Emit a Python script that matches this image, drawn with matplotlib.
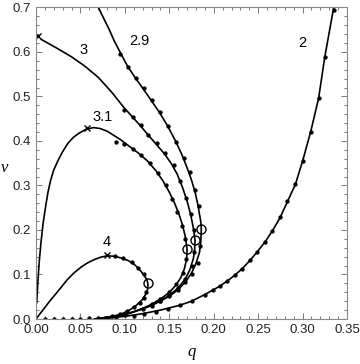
import matplotlib
matplotlib.use("Agg")
import matplotlib.pyplot as plt
from matplotlib.ticker import MultipleLocator

# curve lines (q, nu)
q_2 = [0.065, 0.08, 0.10, 0.12, 0.14, 0.162, 0.175, 0.182, 0.190, 0.199, 0.207, 0.215, 0.224,
       0.232, 0.241, 0.249, 0.258, 0.266, 0.275, 0.283, 0.292, 0.300, 0.309, 0.318, 0.325, 0.335]
nu_2 = [0.0, 0.002, 0.006, 0.012, 0.020, 0.031, 0.040, 0.047, 0.055, 0.065, 0.074, 0.085, 0.099,
        0.113, 0.132, 0.151, 0.174, 0.198, 0.229, 0.264, 0.303, 0.355, 0.420, 0.496, 0.589, 0.700]

q_29 = [0.0702, 0.076, 0.082, 0.088, 0.095, 0.103, 0.112, 0.121, 0.130, 0.139, 0.148, 0.157,
        0.164, 0.170, 0.175, 0.179, 0.182, 0.184, 0.1855, 0.186, 0.1855, 0.184, 0.180, 0.175,
        0.168, 0.160, 0.150, 0.139, 0.127, 0.113, 0.100, 0.088, 0.075]
nu_29 = [0.700, 0.676, 0.652, 0.625, 0.598, 0.568, 0.541, 0.516, 0.490, 0.464, 0.434, 0.400,
         0.370, 0.340, 0.312, 0.285, 0.258, 0.235, 0.218, 0.202, 0.175, 0.150, 0.125, 0.103,
         0.083, 0.066, 0.051, 0.039, 0.028, 0.018, 0.010, 0.005, 0.001]

q_3 = [0.006, 0.023, 0.040, 0.055, 0.070, 0.085, 0.099, 0.109, 0.118, 0.126, 0.136, 0.145,
       0.152, 0.159, 0.165, 0.170, 0.174, 0.177, 0.179, 0.1785, 0.177, 0.173, 0.168, 0.160,
       0.150, 0.138, 0.125, 0.110, 0.095, 0.080, 0.070]
nu_3 = [0.628, 0.609, 0.589, 0.568, 0.543, 0.510, 0.475, 0.453, 0.433, 0.414, 0.391, 0.370,
        0.350, 0.325, 0.295, 0.265, 0.235, 0.205, 0.177, 0.155, 0.135, 0.110, 0.090, 0.070,
        0.053, 0.039, 0.027, 0.016, 0.008, 0.003, 0.001]

q_31 = [0.0008, 0.002, 0.0035, 0.0055, 0.008, 0.011, 0.0135, 0.0165, 0.020, 0.025, 0.030, 0.036,
        0.042, 0.048, 0.057, 0.065, 0.072, 0.080, 0.088, 0.095, 0.105, 0.115, 0.125, 0.135,
        0.143, 0.150, 0.156, 0.161, 0.165, 0.168, 0.170, 0.1695, 0.167, 0.163, 0.157, 0.149,
        0.140, 0.130, 0.118, 0.105, 0.092, 0.080, 0.070]
nu_31 = [0.036, 0.080, 0.125, 0.170, 0.215, 0.255, 0.285, 0.312, 0.335, 0.357, 0.376, 0.395,
         0.408, 0.417, 0.427, 0.430, 0.428, 0.422, 0.412, 0.403, 0.388, 0.373, 0.356, 0.333,
         0.310, 0.285, 0.260, 0.235, 0.210, 0.185, 0.157, 0.135, 0.113, 0.093, 0.075, 0.058,
         0.045, 0.033, 0.022, 0.013, 0.006, 0.002, 0.0005]

q_4 = [0.0, 0.005, 0.010, 0.015, 0.020, 0.027, 0.035, 0.043, 0.051, 0.058, 0.065, 0.073, 0.080,
       0.088, 0.096, 0.104, 0.111, 0.117, 0.122, 0.125, 0.126, 0.1255, 0.123, 0.119, 0.113,
       0.106, 0.098, 0.090, 0.080, 0.072]
nu_4 = [0.0, 0.013, 0.026, 0.039, 0.051, 0.068, 0.088, 0.104, 0.117, 0.126, 0.133, 0.139, 0.142,
        0.141, 0.137, 0.131, 0.122, 0.110, 0.097, 0.087, 0.078, 0.066, 0.054, 0.042, 0.031,
        0.021, 0.013, 0.008, 0.004, 0.002]

# data dots
dq_2 = [0.190, 0.199, 0.207, 0.215, 0.224, 0.232, 0.241, 0.249, 0.258, 0.266, 0.275, 0.283,
        0.292, 0.300, 0.309, 0.318, 0.325, 0.335, 0.175, 0.162, 0.148, 0.135, 0.122, 0.110]
dnu_2 = [0.055, 0.065, 0.074, 0.085, 0.099, 0.113, 0.132, 0.151, 0.174, 0.198, 0.229, 0.264,
         0.303, 0.355, 0.420, 0.496, 0.589, 0.694, 0.040, 0.031, 0.022, 0.016, 0.011, 0.007]
dq_29 = [0.095, 0.103, 0.112, 0.121, 0.130, 0.139, 0.148, 0.157, 0.166, 0.173, 0.179, 0.183,
         0.185, 0.182, 0.176, 0.168, 0.160, 0.150, 0.140, 0.130]
dnu_29 = [0.596, 0.566, 0.541, 0.518, 0.492, 0.466, 0.434, 0.398, 0.362, 0.330, 0.290, 0.255,
          0.165, 0.125, 0.100, 0.083, 0.066, 0.051, 0.040, 0.030]
dq_3 = [0.099, 0.109, 0.118, 0.126, 0.136, 0.145, 0.155, 0.162, 0.169, 0.174, 0.178, 0.178,
        0.175, 0.168, 0.160, 0.150, 0.140]
dnu_3 = [0.470, 0.453, 0.436, 0.413, 0.395, 0.373, 0.345, 0.310, 0.272, 0.235, 0.200, 0.150,
         0.120, 0.090, 0.070, 0.053, 0.041]
dq_31 = [0.090, 0.099, 0.109, 0.118, 0.128, 0.137, 0.146, 0.153, 0.159, 0.164, 0.168, 0.169,
         0.165, 0.158, 0.150, 0.140, 0.130, 0.120]
dnu_31 = [0.398, 0.393, 0.381, 0.369, 0.350, 0.327, 0.300, 0.270, 0.240, 0.210, 0.180, 0.135,
          0.103, 0.078, 0.060, 0.045, 0.033, 0.023]
dq_4 = [0.089, 0.098, 0.108, 0.115, 0.121, 0.124, 0.122, 0.117, 0.110, 0.102, 0.094, 0.086,
        0.078]
dnu_4 = [0.141, 0.136, 0.127, 0.115, 0.100, 0.060, 0.048, 0.037, 0.026, 0.017, 0.011, 0.007,
         0.003]
dq_0 = [0.010, 0.020, 0.030, 0.040, 0.050, 0.060, 0.070, 0.080, 0.090, 0.100]
dnu_0 = [0.001, 0.001, 0.001, 0.001, 0.001, 0.002, 0.002, 0.003, 0.005, 0.008]

# markers: x at curve starts / maxima, o at turning points
xq = [0.002, 0.057, 0.080]
xnu = [0.636, 0.429, 0.144]
oq = [0.126, 0.170, 0.179, 0.186]
onu = [0.080, 0.157, 0.177, 0.202]

labels = ["2", "2.9", "3", "3.1", "4"]
label_q = [0.300, 0.116, 0.053, 0.075, 0.079]
label_nu = [0.620, 0.625, 0.604, 0.454, 0.173]

fig = plt.figure(figsize=(3.6, 3.64), dpi=100)
ax = fig.add_axes([0.1, 0.1236, 0.864, 0.856])

for q, nu in [(q_2, nu_2), (q_29, nu_29), (q_3, nu_3), (q_31, nu_31), (q_4, nu_4)]:
    ax.plot(q, nu, color="black", lw=1.2, solid_joinstyle="round", solid_capstyle="round")

for q, nu in [(dq_2, dnu_2), (dq_29, dnu_29), (dq_3, dnu_3), (dq_31, dnu_31),
              (dq_4, dnu_4), (dq_0, dnu_0)]:
    ax.plot(q, nu, ls="none", marker="o", ms=2.1, color="black")

ax.plot(xq, xnu, ls="none", marker="x", ms=5, mew=1.0, color="black")
ax.plot(oq, onu, ls="none", marker="o", ms=6.5, mfc="none", mec="black", mew=1.0)

for lab, lq, ln in zip(labels, label_q, label_nu):
    ax.text(lq, ln, lab, fontsize=10.5, ha="center", va="center", family="Liberation Sans")

ax.set_xlim(0, 0.35)
ax.set_ylim(0, 0.7)
ax.xaxis.set_major_locator(MultipleLocator(0.05))
ax.xaxis.set_minor_locator(MultipleLocator(0.01))
ax.yaxis.set_major_locator(MultipleLocator(0.1))
ax.yaxis.set_minor_locator(MultipleLocator(0.02))
ax.set_xticklabels([f"{v:.2f}" for v in ax.get_xticks()])
ax.set_yticklabels([f"{v:.1f}" for v in ax.get_yticks()])
ax.tick_params(which="both", direction="in", top=True, right=True, colors="#777777",
               labelcolor="#222222", labelsize=9.5, width=0.7)
ax.tick_params(which="major", length=4)
ax.tick_params(which="minor", length=2)
for lbl in ax.get_xticklabels() + ax.get_yticklabels():
    lbl.set_family("Liberation Sans")
for s in ax.spines.values():
    s.set_color("#888888")
    s.set_linewidth(0.8)

ax.set_xlabel("q", fontsize=12, family="Liberation Serif", style="italic", labelpad=6)
ax.set_ylabel("ν", fontsize=12, family="Liberation Serif", style="italic", rotation=0,
              labelpad=4)
ax.yaxis.set_label_coords(-0.1, 0.46)

fig.savefig("out.png", dpi=100)
